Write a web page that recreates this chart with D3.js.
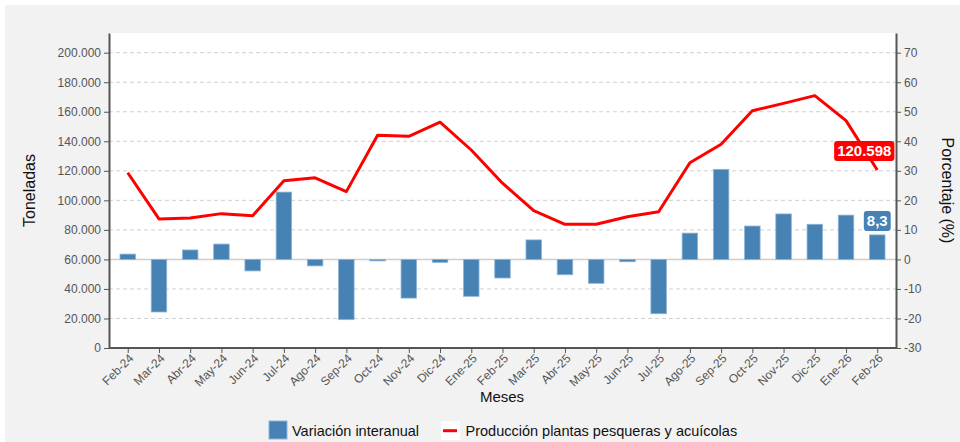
<!DOCTYPE html>
<html><head><meta charset="utf-8">
<script src="https://cdn.jsdelivr.net/npm/d3@7"></script>
<style>
body{margin:0;background:#fff;font-family:"Liberation Sans",Arial,sans-serif;}
</style></head>
<body><svg id="c" width="960" height="442" style="display:block"></svg>
<script>
const months = ["Feb-24","Mar-24","Abr-24","May-24","Jun-24","Jul-24","Ago-24","Sep-24","Oct-24","Nov-24","Dic-24","Ene-25","Feb-25","Mar-25","Abr-25","May-25","Jun-25","Jul-25","Ago-25","Sep-25","Oct-25","Nov-25","Dic-25","Ene-26","Feb-26"];
const produccion = [118700,87400,88000,91000,89600,113300,115300,105900,144100,143400,152900,134100,111600,93000,83800,83800,88900,92300,125500,138000,160700,165700,170900,154000,120598];
const variacion = [1.8,-17.8,3.2,5.2,-3.9,22.8,-2.2,-20.4,-0.5,-13.1,-1.0,-12.5,-6.3,6.6,-5.2,-8.1,-0.8,-18.4,8.9,30.5,11.3,15.4,11.9,15.0,8.3];
const leftTicks = d3.range(0, 200001, 20000);
const rightTicks = d3.range(-30, 71, 10);

const svg = d3.select("#c");
const L = 109, R = 896, T = 33, B = 348;
const loc = d3.formatLocale({decimal:",", thousands:".", grouping:[3], currency:["",""]});
const fmtT = loc.format(",.0f");
const fmtP = loc.format(",.1f");

svg.append("rect").attr("width",960).attr("height",442).attr("fill","#fff");
svg.append("rect").attr("x",5).attr("y",5).attr("width",955).attr("height",437).attr("fill","#f2f2f2");
svg.append("rect").attr("x",L).attr("y",T).attr("width",R-L).attr("height",B-T).attr("fill","#fff");

const x = d3.scalePoint().domain(months).range([L,R]).padding(0.6);
const yL = d3.scaleLinear().domain([0, 213342]).range([B,T]);
const yR = d3.scaleLinear().domain([-30, 76.67]).range([B,T]);
const bw = 15.5;

// grid
svg.append("g").selectAll("line").data(leftTicks.filter(d=>d>0)).join("line")
  .attr("x1",L).attr("x2",R).attr("y1",d=>yL(d)).attr("y2",d=>yL(d))
  .attr("stroke","#d0d0d0").attr("stroke-dasharray","4,3").attr("stroke-width",1);

// zero line
svg.append("line").attr("x1",L).attr("x2",R).attr("y1",yR(0)).attr("y2",yR(0))
  .attr("stroke","#cfcfcf").attr("stroke-width",1.5);

// bars
svg.append("g").selectAll("rect").data(variacion).join("rect")
  .attr("x",(d,i)=>x(months[i])-bw/2).attr("width",bw)
  .attr("y",d=>yR(Math.max(0,d))).attr("height",d=>Math.abs(yR(d)-yR(0)))
  .attr("fill","#4682b4").attr("stroke","#8fb4d6").attr("stroke-width",0.8);

// line
svg.append("path").datum(produccion)
  .attr("d", d3.line().x((d,i)=>x(months[i])).y(d=>yL(d)))
  .attr("fill","none").attr("stroke","#ff0000").attr("stroke-width",3).attr("stroke-linejoin","round");

// axes
const axL = svg.append("g").attr("transform",`translate(${L},0)`)
  .call(d3.axisLeft(yL).tickValues(leftTicks).tickFormat(fmtT).tickSize(5).tickSizeOuter(0));
const axR = svg.append("g").attr("transform",`translate(${R},0)`)
  .call(d3.axisRight(yR).tickValues(rightTicks).tickFormat(d=>d).tickSize(5).tickSizeOuter(0));
const axB = svg.append("g").attr("transform",`translate(0,${B})`)
  .call(d3.axisBottom(x).tickSize(5).tickSizeOuter(0));
[axL,axR,axB].forEach(a=>{
  a.select(".domain").attr("stroke","#555").attr("stroke-width",2);
  a.selectAll(".tick line").attr("stroke","#555");
  a.selectAll("text").attr("fill","#555").style("font-size","12px").style("font-family","Liberation Sans, Arial, sans-serif");
});
axB.selectAll("text").attr("text-anchor","end").attr("dx","-0.3em").attr("dy","0.5em")
  .attr("transform","rotate(-45)").attr("y",6).attr("x",0);
axB.select(".domain").attr("d",`M${L},0H${R}`);

// titles
svg.append("text").attr("transform",`translate(35,${(T+B)/2}) rotate(-90)`).attr("text-anchor","middle")
  .style("font-size","16px").attr("fill","#111").text("Toneladas");
svg.append("text").attr("transform",`translate(942,${(T+B)/2}) rotate(90)`).attr("text-anchor","middle")
  .style("font-size","16px").attr("fill","#111").text("Porcentaje (%)");
svg.append("text").attr("x",502).attr("y",402).attr("text-anchor","middle")
  .style("font-size","15px").attr("fill","#111").text("Meses");

// end labels
const li = months.length-1;
function label(cx, cy, txt, fill){
  const g = svg.append("g");
  const t = g.append("text").attr("x",cx).attr("y",cy).attr("dy","0.36em").attr("text-anchor","middle")
    .style("font-size","15px").style("font-weight","bold").attr("fill","#fff").text(txt);
  const bb = t.node().getBBox();
  g.insert("rect","text").attr("x",bb.x-3).attr("y",cy-10).attr("width",bb.width+6).attr("height",20)
    .attr("rx",3).attr("fill",fill);
}
label(x(months[li])-13, yL(produccion[li])-19, fmtT(produccion[li]), "#ff0000");
label(x(months[li]), yR(variacion[li])-14, fmtP(variacion[li]), "#4682b4");

// legend
const lg = svg.append("g");
lg.append("rect").attr("x",269).attr("y",421).attr("width",18).attr("height",18).attr("fill","#4682b4").attr("stroke","#8fb4d6");
lg.append("text").attr("x",292).attr("y",430.5).attr("dy","0.36em").style("font-size","14.5px").attr("fill","#111").text("Variación interanual");
lg.append("rect").attr("x",441).attr("y",421.5).attr("width",19).attr("height",18.5).attr("fill","#fff");
lg.append("line").attr("x1",443).attr("x2",457).attr("y1",430.7).attr("y2",430.7).attr("stroke","#ff0000").attr("stroke-width",3);
lg.append("text").attr("x",465.5).attr("y",430.5).attr("dy","0.36em").style("font-size","14.5px").attr("fill","#111").text("Producción plantas pesqueras y acuícolas");
</script></body></html>
